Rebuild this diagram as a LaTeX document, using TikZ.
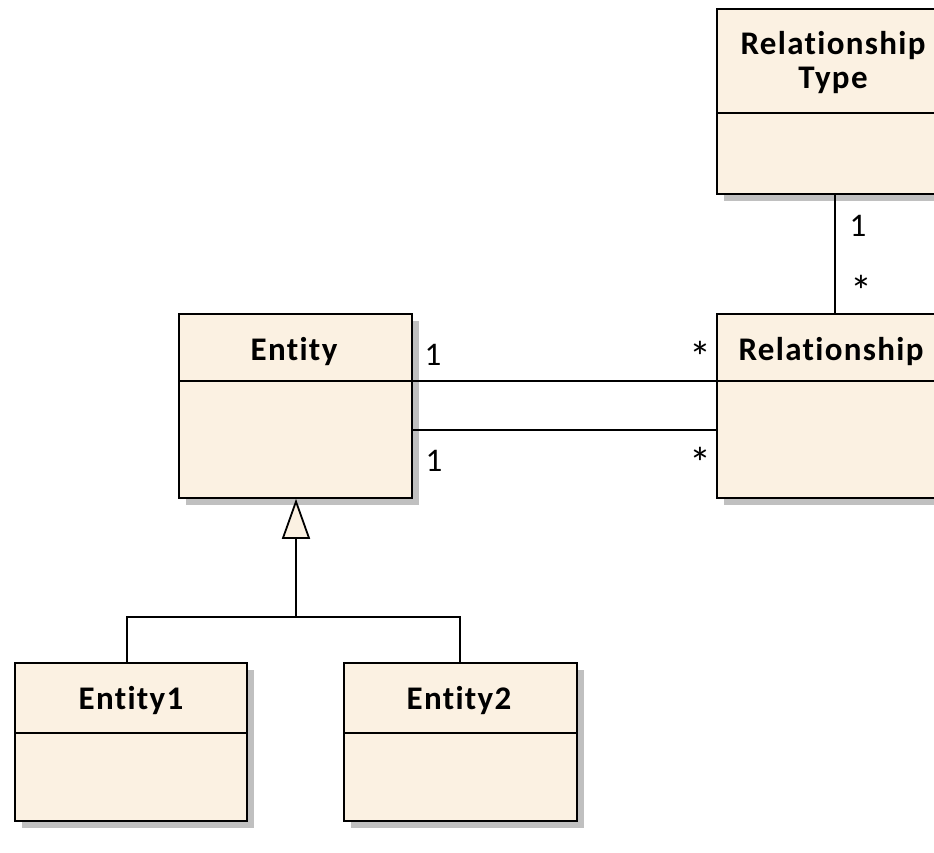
\documentclass[tikz,border=0pt]{standalone}
\usepackage{fontspec}
\setmainfont{Carlito}
\newfontfamily\titlefont[LetterSpace=4, Ligatures=NoCommon]{Carlito}
\usetikzlibrary{arrows.meta,shadows,calc}
\definecolor{classfill}{RGB}{251,241,226}
\definecolor{shadowgray}{RGB}{192,192,192}
\tikzset{
  classbox/.style={draw=black, line width=1.8pt, fill=classfill, rectangle,
    inner sep=0pt, anchor=north west,
    drop shadow={shadow xshift=7pt, shadow yshift=-7pt, fill=shadowgray, opacity=1}},
  classname/.style={font=\titlefont\bfseries\fontsize{33}{34}\selectfont, align=center, inner sep=0pt},
  mult/.style={font=\fontsize{33}{34}\selectfont, inner sep=0pt},
  star/.style={font=\fontsize{44}{44}\selectfont, inner sep=0pt},
  conn/.style={draw=black, line width=1.8pt},
  divider/.style={draw=black, line width=1.8pt}
}
\begin{document}
\begin{tikzpicture}[x=1pt,y=-1pt]
\useasboundingbox (0,0) rectangle (934,852);
\clip (0,0) rectangle (934,852);

% classes
\node[classbox, minimum width=234pt, minimum height=185pt] (reltype) at (716,8) {};
\node[classbox, minimum width=234pt, minimum height=184pt] (rel) at (716,313) {};
\node[classbox, minimum width=233pt, minimum height=184pt] (entity) at (178,313) {};
\node[classbox, minimum width=232pt, minimum height=158pt] (entityA) at (14,662) {};
\node[classbox, minimum width=233pt, minimum height=158pt] (entityB) at (343,662) {};

% compartment dividers
\draw[divider] ($(reltype.north west)+(0,105)$) -- ($(reltype.north east)+(0,105)$);
\draw[divider] ($(rel.north west)+(0,68)$) -- ($(rel.north east)+(0,68)$);
\draw[divider] ($(entity.north west)+(0,68)$) -- ($(entity.north east)+(0,68)$);
\draw[divider] ($(entityA.north west)+(0,71)$) -- ($(entityA.north east)+(0,71)$);
\draw[divider] ($(entityB.north west)+(0,71)$) -- ($(entityB.north east)+(0,71)$);

% class names
\node[classname] (reltypename) at (833,63) {Relationship\\Type};
\node[classname] (relname) at (831,352) {Relationship};
\node[classname] (entityname) at (294,352) {Entity};
\node[classname] (entityAname) at (131,701) {Entity1};
\node[classname] (entityBname) at (459,701) {Entity2};

% associations
\coordinate (rtbot) at (835,193);
\draw[conn] (rtbot) -- (rtbot |- rel.north);
\draw[conn] ($(entity.north east)+(0,68)$) coordinate (ea) -- (ea -| rel.west);
\draw[conn] ($(entity.north east)+(0,117)$) coordinate (eb) -- (eb -| rel.west);

% multiplicities
\node[mult] (m1) at (858,226) {1};
\node[star] (m2) at (861,291) {*};
\node[mult] (m3) at (433,355) {1};
\node[star] (m4) at (700,357) {*};
\node[mult] (m5) at (434,461) {1};
\node[star] (m6) at (700,463) {*};

% generalization
\coordinate (genjoin) at (296,617);
\coordinate (genA) at (127,617);
\coordinate (genB) at (460,617);
\draw[conn] (genA |- entityA.north) -- (genA) -- (genB) -- (genB |- entityB.north);
\draw[conn, -{Triangle[open, width=28pt, length=40pt, fill=classfill, line width=1.8pt]}]
  (genjoin) -- (genjoin |- entity.south);
\end{tikzpicture}
\end{document}
